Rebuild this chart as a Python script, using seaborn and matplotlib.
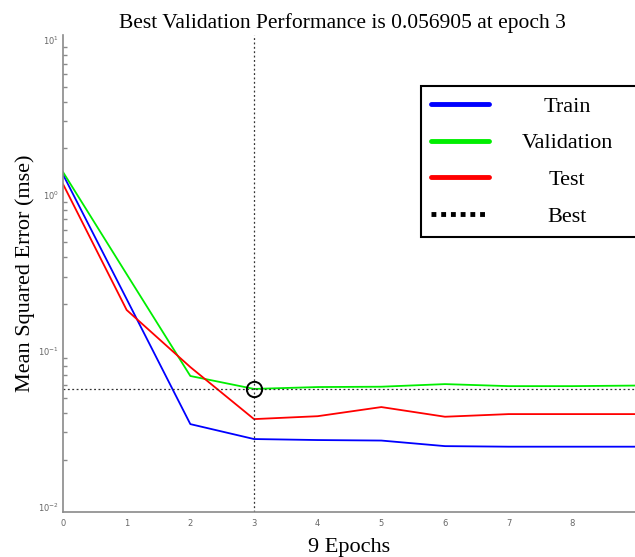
import matplotlib
matplotlib.use("Agg")
import numpy as np
import pandas as pd
import seaborn as sns
import matplotlib.pyplot as plt
from matplotlib.lines import Line2D
from matplotlib.ticker import LogLocator, NullFormatter
from matplotlib.transforms import Bbox

# ---- data ----
epochs = [0, 1, 2, 3, 4, 5, 6, 7, 8, 9]
train = [1.36, 0.215, 0.0338, 0.0271, 0.0267, 0.0265, 0.0244, 0.0242, 0.0242, 0.0242]
validation = [1.41, 0.311, 0.0689, 0.056905, 0.0585, 0.0588, 0.0611, 0.0593, 0.0593, 0.0598]
test = [1.18, 0.183, 0.0786, 0.0364, 0.0380, 0.0435, 0.0377, 0.0392, 0.0392, 0.0392]
series_names = ["Train", "Validation", "Test"]
best_epoch = 3
best_perf = 0.056905
xtick_vals = [0, 1, 2, 3, 4, 5, 6, 7, 8]
title = "Best Validation Performance is 0.056905 at epoch 3"
xlabel = "9 Epochs"
ylabel = "Mean Squared Error (mse)"

df = pd.DataFrame({"epoch": epochs, "Train": train,
                   "Validation": validation, "Test": test})
long = df.melt(id_vars="epoch", var_name="series", value_name="mse")

colors = {"Train": "#0000ff", "Validation": "#00ee00", "Test": "#ff0000"}

sns.set_style("white")
plt.rcParams["font.family"] = ["Liberation Serif", "DejaVu Serif"]
plt.rcParams["text.color"] = "black"
plt.rcParams["axes.labelcolor"] = "black"

fig = plt.figure(figsize=(6.35, 5.57), dpi=100)
ax = fig.add_axes([63 / 635, 45 / 557, 573 / 635, 477 / 557])

sns.lineplot(data=long, x="epoch", y="mse", hue="series", hue_order=series_names,
             palette=colors, ax=ax, legend=False, linewidth=1.3)

ax.set_yscale("log")
ax.set_xlim(0, 9)
ax.set_ylim(10 ** -2.036, 10 ** 1.03)

ax.axvline(best_epoch, color="#333333", linestyle=(0, (1.5, 2)), linewidth=0.9)
ax.axhline(best_perf, color="#333333", linestyle=(0, (1.5, 2)), linewidth=0.9)
ax.plot([best_epoch], [best_perf], marker="o", markerfacecolor="none",
        markeredgecolor="black", markersize=11, markeredgewidth=1.4)

ax.set_xticks(xtick_vals)
ax.set_xticklabels([str(v) for v in xtick_vals])
ax.yaxis.set_major_locator(LogLocator(base=10, numticks=10))
ax.yaxis.set_minor_locator(LogLocator(base=10, subs=np.arange(2, 10), numticks=20))
ax.yaxis.set_minor_formatter(NullFormatter())

for s in ["top", "right"]:
    ax.spines[s].set_visible(False)
for s in ["left", "bottom"]:
    ax.spines[s].set_color("#8a8a8a")
    ax.spines[s].set_linewidth(1.2)

ax.tick_params(axis="both", which="major", direction="in", length=5, width=1,
               color="#8a8a8a", labelsize=6, labelcolor="#666666", pad=3)
ax.tick_params(axis="y", which="minor", direction="in", length=3, width=1,
               color="#8a8a8a", left=True)
ax.tick_params(axis="x", which="major", pad=5)
for lab in ax.get_xticklabels() + ax.get_yticklabels():
    lab.set_family("DejaVu Sans")

ax.set_title(title, fontsize=15.5, pad=5, color="black", x=0.488)
ax.set_xlabel(xlabel, fontsize=16, labelpad=7.5, color="black")
ax.set_ylabel(ylabel, fontsize=16, labelpad=2, color="black")

handles = [Line2D([], [], color=colors[n], linewidth=3.5) for n in series_names]
handles.append(Line2D([], [], color="black", linewidth=3.5, linestyle=(0, (1, 1))))
leg = ax.legend(handles, series_names + ["Best"], loc="upper left",
                bbox_to_anchor=(0.6248, 0.893), fontsize=16, frameon=True,
                fancybox=False, framealpha=1, edgecolor="black",
                handlelength=2.6, handletextpad=0.7, labelspacing=0.73,
                borderpad=0.45, borderaxespad=0)
leg.get_frame().set_linewidth(1.5)
for t in leg.get_texts():
    t.set_color("black")

# centre the legend labels in a fixed-width column (as in the reference)
LABEL_W = 126


def _centered_bbox(orig, width):
    def get_bbox(renderer):
        bb = orig(renderer)
        return Bbox.from_bounds(-width / 2, bb.y0, width, bb.height)
    return get_bbox


for item in leg._legend_handle_box.get_children()[0].get_children():
    ta = item.get_children()[1]
    ta._text.set_horizontalalignment("center")
    ta.get_bbox = _centered_bbox(ta.get_bbox, LABEL_W)

fig.savefig("out.png", dpi=100)
